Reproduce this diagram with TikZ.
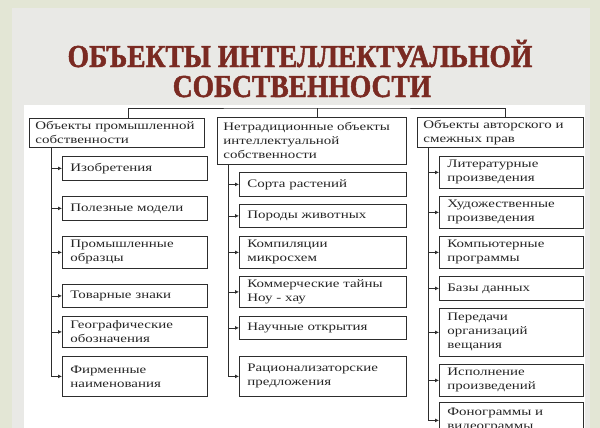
\documentclass[tikz,border=0pt]{standalone}
\usepackage{fontspec}
\setmainfont{Liberation Serif}
\newfontfamily\boxfont{Liberation Serif}[FakeStretch=1.3]
\newfontfamily\titlefont{Liberation Serif}[FakeStretch=0.86, FakeBold=1.5]
\usetikzlibrary{arrows.meta}
\definecolor{titlered}{RGB}{122,42,34}
\definecolor{framegreen}{RGB}{227,230,213}
\definecolor{slidegrey}{RGB}{233,233,230}
\definecolor{linegrey}{RGB}{45,45,45}

\begin{document}
\begin{tikzpicture}[x=1pt, y=-1pt, color=linegrey, every path/.style={line width=0.8pt},
  headbox/.style={draw, anchor=north west, align=left, inner xsep=6pt, inner ysep=2pt, text=black!85, font=\boxfont\fontsize{11.5}{14}\selectfont},
  itembox/.style={headbox, inner xsep=8pt},
  arr/.style={-{Latex[length=4pt, width=4pt]}}]
\useasboundingbox (0,0) rectangle (600,428);
\fill[framegreen] (0,0) rectangle (600,428);
\fill[slidegrey] (12,8) rectangle (590,428);
\fill[white] (24,105) rectangle (585,428);

\node[anchor=base, text=titlered, font=\titlefont\bfseries\fontsize{32}{32}\selectfont] (title1) at (300,67) {ОБЪЕКТЫ ИНТЕЛЛЕКТУАЛЬНОЙ};
\node[anchor=base, text=titlered, font=\titlefont\bfseries\fontsize{32}{32}\selectfont] (title2) at (302,97) {СОБСТВЕННОСТИ};

\node[headbox, text width=163pt, minimum height=29pt] (lhead) at (29,118) {Объекты промышленной\\собственности};
\node[headbox, text width=177pt, minimum height=47pt] (mhead) at (217,117) {Нетрадиционные объекты\\интеллектуальной\\собственности};
\node[headbox, text width=154pt, minimum height=30pt] (rhead) at (417,117) {Объекты авторского и\\смежных прав};

\node[itembox, text width=129pt, minimum height=24pt] (l1) at (62,156) {Изобретения};
\node[itembox, text width=129pt, minimum height=24pt] (l2) at (62,196) {Полезные модели};
\node[itembox, text width=129pt, minimum height=32pt] (l3) at (62,236) {Промышленные\\образцы};
\node[itembox, text width=129pt, minimum height=23pt] (l4) at (62,284) {Товарные знаки};
\node[itembox, text width=129pt, minimum height=31pt] (l5) at (62,316) {Географические\\обозначения};
\node[itembox, text width=129pt, minimum height=40pt] (l6) at (62,356) {Фирменные\\наименования};

\node[itembox, text width=151pt, minimum height=24pt] (m1) at (239,172) {Сорта растений};
\node[itembox, text width=151pt, minimum height=23pt] (m2) at (239,204) {Породы животных};
\node[itembox, text width=151pt, minimum height=32pt] (m3) at (239,236) {Компиляции\\микросхем};
\node[itembox, text width=151pt, minimum height=31pt] (m4) at (239,276) {Коммерческие тайны\\Ноу - хау};
\node[itembox, text width=151pt, minimum height=23pt] (m5) at (239,316) {Научные открытия};
\node[itembox, text width=151pt, minimum height=40pt] (m6) at (239,356) {Рационализаторские\\предложения};

\node[itembox, text width=128pt, minimum height=32pt] (r1) at (439,156) {Литературные\\произведения};
\node[itembox, text width=128pt, minimum height=32pt] (r2) at (439,196) {Художественные\\произведения};
\node[itembox, text width=128pt, minimum height=32pt] (r3) at (439,236) {Компьютерные\\программы};
\node[itembox, text width=128pt, minimum height=24pt] (r4) at (439,276) {Базы данных};
\node[itembox, text width=128pt, minimum height=48pt] (r5) at (439,308) {Передачи\\организаций\\вещания};
\node[itembox, text width=128pt, minimum height=32pt] (r6) at (439,364) {Исполнение\\произведений};
\node[itembox, text width=128pt, minimum height=36pt] (r7) at (439,402) {Фонограммы и\\видеограммы};

% top bar
\coordinate (topbar) at (317,108);
\draw ([xshift=11.5pt]lhead.north) |- (topbar) -| ([xshift=5pt]rhead.north);
\draw (topbar) -- (topbar |- mhead.north);

% trunks
\coordinate (ltrunk) at (51,147);
\coordinate (mtrunk) at (228,164);
\coordinate (rtrunk) at (428,147);
\draw (ltrunk) -- (ltrunk |- l6.west);
\draw (mtrunk) -- (mtrunk |- m6.west);
\draw (rtrunk) -- (rtrunk |- r7.west);
\foreach \i in {1,...,6} \draw[arr] (ltrunk |- l\i.west) -- (l\i.west);
\foreach \i in {1,...,6} \draw[arr] (mtrunk |- m\i.west) -- (m\i.west);
\foreach \i in {1,...,7} \draw[arr] (rtrunk |- r\i.west) -- (r\i.west);
\end{tikzpicture}
\end{document}
